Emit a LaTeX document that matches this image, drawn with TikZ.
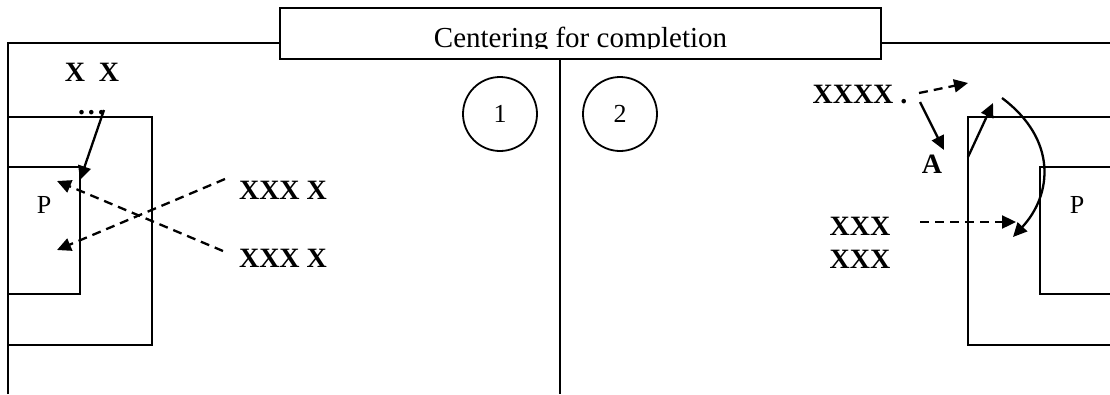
\documentclass[tikz,border=0pt]{standalone}
\usepackage{fontspec}
\setmainfont{Liberation Serif}
\usetikzlibrary{arrows.meta}
\begin{document}
\begin{tikzpicture}[x=1pt,y=-1pt,
  frame/.style={line width=1.8pt},
  bx/.style={font=\fontsize{28}{34}\selectfont\bfseries, inner sep=0pt},
  rg/.style={font=\fontsize{26}{30}\selectfont, inner sep=0pt},
  arr/.style={line width=2.3pt,-{Triangle[length=14pt,width=13pt]}},
  darr/.style={arr, dash pattern=on 9pt off 6pt},
]
\useasboundingbox (0,0) rectangle (1110,394);
% frame
\draw[frame] (8,394) -- (8,43) -- (280,43);
\draw[frame] (881,43) -- (1110,43);
\draw[frame] (560,59) -- (560,394);
% left boxes
\draw[frame] (8,117) -- (152,117) -- (152,345) -- (8,345);
\draw[frame] (8,167) -- (80,167) -- (80,294) -- (8,294);
% right boxes
\draw[frame] (1110,117) -- (968,117) -- (968,345) -- (1110,345);
\draw[frame] (1110,167) -- (1040,167) -- (1040,294) -- (1110,294);
% header
\node[draw, frame, fill=white, minimum width=601pt, minimum height=51pt, inner sep=0pt] (header) at (580.5,33.5) {};
\begin{scope}
\clip (281,9) rectangle (880,48.5);
\node[font=\fontsize{29}{34}\selectfont, anchor=base, inner sep=0pt] (title) at (580.5,47) {Centering for completion};
\end{scope}
% circles
\node[draw, circle, frame, minimum size=74pt, rg] (c1) at (500,114) {1};
\node[draw, circle, frame, minimum size=74pt, rg] (c2) at (620,114) {2};
% texts
\node[bx, anchor=base] (xx) at (92,81) {X\ \ X};
\node[bx, anchor=base] (dots) at (91.5,114) {.\kern3pt.\kern3pt.};
\node[bx, anchor=base] (xxx1) at (283,199) {XXX X};
\node[bx, anchor=base] (xxx2) at (283,267) {XXX X};
\node[rg, anchor=base] (p1) at (44,213) {P};
\node[rg, anchor=base] (p2) at (1077,213) {P};
\node[bx, anchor=base] (xxxx) at (860,103) {XXXX .};
\node[bx, anchor=base] (A) at (932,173) {A};
\node[bx, anchor=base] (xxx3) at (860,235) {XXX};
\node[bx, anchor=base] (xxx4) at (860,268) {XXX};
% arrow end points
\coordinate (a1s) at (104,110); \coordinate (a1e) at (80,180);
\coordinate (d1s) at (223,251); \coordinate (d1e) at (57,181);
\coordinate (d2s) at (225,179); \coordinate (d2e) at (57,250);
\coordinate (r1s) at (919,93);  \coordinate (r1e) at (968,83);
\coordinate (r2s) at (920,102); \coordinate (r2e) at (944,150);
\coordinate (r3s) at (968,157); \coordinate (r3e) at (993,103);
\coordinate (r4s) at (1002,98); \coordinate (r4e) at (1013,237);
\coordinate (r5s) at (920,222); \coordinate (r5e) at (1016,222);
% arrows
\draw[arr] (a1s) -- (a1e);
\draw[darr] (d1s) -- (d1e);
\draw[darr] (d2s) -- (d2e);
\draw[darr] (r1s) -- (r1e);
\draw[arr] (r2s) -- (r2e);
\draw[arr] (r3s) -- (r3e);
\draw[arr] (r4s) .. controls (1058,140) and (1052,195) .. (r4e);
\draw[darr] (r5s) -- (r5e);
\end{tikzpicture}
\end{document}
